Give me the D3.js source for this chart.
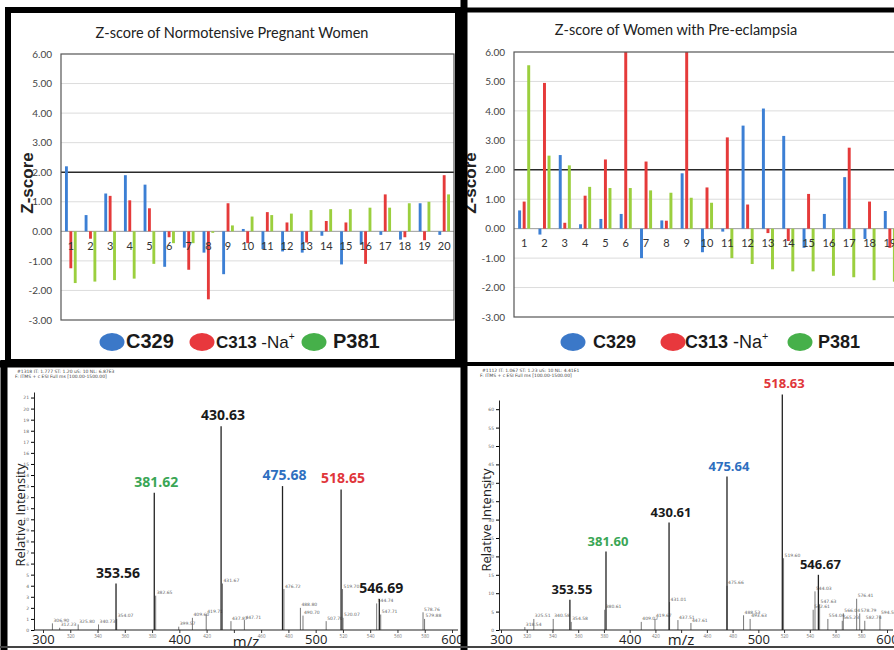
<!DOCTYPE html>
<html>
<head>
<meta charset="utf-8">
<script src="https://cdn.jsdelivr.net/npm/d3@7"></script>
<style>
body { margin: 0; background: #fff; }
svg { display: block; font-family: Lato, "Open Sans", sans-serif; }
</style>
</head>
<body>
<div id="fig"></div>
<script>
// ---- data ----
const categories = [1, 2, 3, 4, 5, 6, 7, 8, 9, 10, 11, 12, 13, 14, 15, 16, 17, 18, 19, 20];
const preCategories = [1, 2, 3, 4, 5, 6, 7, 8, 9, 10, 11, 12, 13, 14, 15, 16, 17, 18, 19];
const zTicks = [6, 5, 4, 3, 2, 1, 0, -1, -2, -3];
const seriesNames = ["C329", "C313", "P381"];

// normotensive pregnant women
const normC329 = [2.2, 0.55, 1.28, 1.9, 1.58, -1.2, -0.55, -0.72, -1.45, 0.08, -0.6, -0.68, -0.72, -0.15, -1.12, -0.45, -0.12, -0.28, 0.95, -0.12];
const normC313 = [-1.25, -0.25, 1.2, 1.05, 0.78, -0.2, -1.3, -2.3, 0.95, -0.4, 0.65, 0.3, -0.38, 0.35, 0.3, -1.1, 1.25, -0.2, -0.3, 1.9];
const normP381 = [-1.75, -1.7, -1.65, -1.6, -1.1, -0.4, -0.4, -0.05, 0.2, 0.5, 0.55, 0.6, 0.72, 0.75, 0.75, 0.8, 0.8, 0.95, 1.0, 1.25];

// women with pre-eclampsia (only 19 groups fit on the page)
const preC329 = [0.62, -0.2, 2.5, 0.15, 0.33, 0.5, -1.0, 0.28, 1.88, -0.8, -0.1, 3.5, 4.08, 3.15, -0.65, 0.5, 1.75, -0.35, 0.6];
const preC313 = [0.92, 4.95, 0.2, 1.12, 2.35, 6.0, 2.28, 0.27, 6.0, 1.4, 3.1, 0.82, -0.15, -0.42, 1.18, 0, 2.75, 0.92, -0.65];
const preP381 = [5.55, 2.48, 2.15, 1.42, 1.38, 1.38, 1.3, 1.22, 1.05, 0.88, -1.0, -1.2, -1.38, -1.45, -1.45, -1.6, -1.65, -1.75, -1.8];

// mass spectrum, normotensive
const specAMz = [353.56, 381.62, 430.63, 475.68, 518.65, 546.69];
const specAInt = [4.2, 12.4, 18.4, 13.0, 12.7, 2.8];
const specAMinorMz = [306.90, 312.23, 325.80, 340.73, 354.07, 382.65, 399.57, 409.60, 419.71, 431.67, 437.87, 447.71, 476.72, 488.80, 490.70, 507.70, 519.70, 520.07, 544.74, 547.71, 578.76, 579.88];
const specAMinorInt = [0.6, 0.2, 0.5, 0.5, 1.0, 3.1, 0.3, 1.1, 1.4, 4.2, 0.8, 0.9, 3.7, 2.0, 1.3, 0.8, 3.7, 1.1, 2.4, 1.4, 1.6, 1.0];
const specAYTicks = [0, 1, 2, 3, 4, 5, 6, 7, 8, 9, 10, 11, 12, 13, 14, 15, 16, 17, 18, 19, 20, 21];
const specAHeader = ["#1318  IT: 1.777  ST: 1.20  uS: 10  NL: 6.87E3", "F: ITMS + c ESI Full ms [100.00-1500.00]"];

// mass spectrum, pre-eclampsia
const specBMz = [353.55, 381.60, 430.61, 475.64, 518.63, 546.67];
const specBInt = [8.2, 21.3, 29.2, 41.7, 64.0, 15.0];
const specBMinorMz = [318.54, 325.51, 340.58, 354.58, 380.61, 409.02, 419.67, 431.01, 437.51, 447.61, 475.66, 488.53, 493.63, 519.60, 542.61, 544.03, 547.63, 554.04, 565.23, 566.04, 576.41, 578.79, 582.74, 594.50];
const specBMinorInt = [0.8, 3.0, 3.0, 2.2, 5.5, 2.2, 3.0, 7.6, 2.7, 1.9, 12.0, 4.0, 3.0, 19.5, 5.5, 10.5, 7.0, 3.0, 2.5, 4.5, 8.5, 4.5, 2.5, 4.0];
const specBYTicks = [0, 5, 10, 15, 20, 25, 30, 35, 40, 45, 50, 55, 60];
const specBHeader = ["#1112  IT: 1.067  ST: 1.23  uS: 10  NL: 4.41E1", "F: ITMS + c ESI Full ms [100.00-1500.00]"];

const mzTicks = [300, 320, 340, 360, 380, 400, 420, 440, 460, 480, 500, 520, 540, 560, 580, 600];

// ---- styles ----
const barColors = ["#3c7fd4", "#e53a3a", "#9bcf3e"];
const legendColors = ["#3b78c8", "#e8383d", "#46b04a"];
const mainLabelColors = ["#1a1a1a", "#3aa655", "#1a1a1a", "#2e6fc0", "#e0363a", "#1a1a1a"];

let svg = d3.select("#fig").append("svg")
    .attr("width", 894)
    .attr("height", 650);

function zChart(cfg) {
    let g = svg.append("g");
    let x = d3.scaleBand().domain(cfg.cats).range([cfg.x0, cfg.x1]);
    let xs = d3.scaleBand().domain([0, 1, 2])
        .range([x.bandwidth() * 0.125, x.bandwidth() * 0.875])
        .padding(0.35);
    let y = d3.scaleLinear().domain([-3, 6]).range([cfg.y1, cfg.y0]);

    // title
    g.append("text")
        .attr("x", cfg.titleX)
        .attr("y", cfg.titleY)
        .attr("text-anchor", "middle")
        .attr("font-size", 14.5)
        .attr("fill", "#222")
        .text(cfg.title);

    // grid lines
    g.append("g").selectAll("line")
        .data(zTicks.filter(d => d !== 6 && d !== -3))
        .join("line")
        .attr("x1", cfg.x0)
        .attr("x2", cfg.x1)
        .attr("y1", d => y(d))
        .attr("y2", d => y(d))
        .attr("stroke", d => d === 2 ? "#2a2a2a" : (d === 0 ? "#9a9a9a" : "#dcdcdc"))
        .attr("stroke-width", d => d === 2 ? 1.5 : 1);

    // bars
    cfg.series.forEach((vals, si) => {
        g.append("g").selectAll("rect")
            .data(vals)
            .join("rect")
            .attr("x", (d, i) => x(cfg.cats[i]) + xs(si))
            .attr("width", xs.bandwidth())
            .attr("y", d => y(Math.max(0, d)))
            .attr("height", d => Math.abs(y(d) - y(0)))
            .attr("fill", barColors[si]);
    });

    // frame
    g.append("rect")
        .attr("x", cfg.x0)
        .attr("y", y(6))
        .attr("width", cfg.x1 - cfg.x0)
        .attr("height", y(-3) - y(6))
        .attr("fill", "none")
        .attr("stroke", "#555")
        .attr("stroke-width", 1.2);

    // y axis labels
    let ya = g.append("g")
        .attr("transform", "translate(" + cfg.x0 + ",0)")
        .call(d3.axisLeft(y).tickValues(zTicks).tickFormat(d => d.toFixed(2)).tickSize(0).tickPadding(9));
    ya.select(".domain").remove();
    ya.selectAll("text").attr("font-size", 10).attr("fill", "#444").attr("font-family", "Lato, sans-serif");

    // category labels under the zero line
    g.append("g").selectAll("text")
        .data(cfg.cats)
        .join("text")
        .attr("x", d => x(d) + x.bandwidth() / 2)
        .attr("y", y(0) + 18.5)
        .attr("text-anchor", "middle")
        .attr("font-size", 11)
        .attr("fill", "#333")
        .text(d => d);

    // y title
    g.append("text")
        .attr("transform", "translate(" + cfg.yLabelX + "," + cfg.yLabelY + ") rotate(-90)")
        .attr("text-anchor", "middle")
        .attr("font-family", "Liberation Sans, Arial, sans-serif")
        .attr("font-weight", "bold")
        .attr("font-size", 17)
        .attr("fill", "#222")
        .text("Z-score");

    // legend
    let lg = g.append("g");
    seriesNames.forEach((name, i) => {
        lg.append("ellipse")
            .attr("cx", cfg.legendDotX[i])
            .attr("cy", cfg.legendY - 6)
            .attr("rx", 12.5)
            .attr("ry", 9)
            .attr("fill", legendColors[i]);
        let t = lg.append("text")
            .attr("x", cfg.legendTextX[i])
            .attr("y", cfg.legendY)
            .attr("font-family", "Liberation Sans, Arial, sans-serif")
            .attr("font-size", name === "C313" ? cfg.naSize : cfg.legendSize)
            .attr("fill", "#1a1a1a");
        t.append("tspan").attr("font-weight", "bold").text(name);
        if (name === "C313") {
            t.append("tspan").text(" -Na");
            t.append("tspan").attr("font-size", cfg.naSize * 0.6).attr("dy", -8).text("+");
        }
    });
}

function spectrum(cfg) {
    let g = svg.append("g");
    let x = d3.scaleLinear().domain([300, 600]).range([cfg.x0, cfg.x1]);
    let y = d3.scaleLinear().domain([0, cfg.yMax]).range([cfg.yBase, cfg.yTop]);

    // instrument header
    g.append("g").selectAll("text")
        .data(cfg.header)
        .join("text")
        .attr("x", (d, i) => cfg.headerX - i * 2)
        .attr("y", (d, i) => cfg.headerY + i * 5)
        .attr("font-family", "DejaVu Sans, sans-serif")
        .attr("font-size", 4.5)
        .attr("fill", "#444")
        .text(d => d);

    // minor peaks
    let minor = d3.zip(cfg.minorMz, cfg.minorInt);
    g.append("g").selectAll("line")
        .data(minor)
        .join("line")
        .attr("x1", d => x(d[0]))
        .attr("x2", d => x(d[0]))
        .attr("y1", y(0))
        .attr("y2", d => y(d[1]))
        .attr("stroke", "#555")
        .attr("stroke-width", 0.8);
    g.append("g").selectAll("text")
        .data(minor)
        .join("text")
        .attr("x", d => x(d[0]) + 1)
        .attr("y", d => y(d[1]) - 1.5)
        .attr("font-family", "DejaVu Sans, sans-serif")
        .attr("font-size", 4.5)
        .attr("fill", "#666")
        .text(d => d[0].toFixed(2));

    // main peaks
    let main = d3.zip(cfg.mz, cfg.inten);
    g.append("g").selectAll("line")
        .data(main)
        .join("line")
        .attr("x1", d => x(d[0]))
        .attr("x2", d => x(d[0]))
        .attr("y1", y(0))
        .attr("y2", d => y(d[1]))
        .attr("stroke", "#222")
        .attr("stroke-width", 1.3);
    g.append("g").selectAll("text")
        .data(main)
        .join("text")
        .attr("x", d => x(d[0]) + 2)
        .attr("y", d => y(d[1]) - 6)
        .attr("text-anchor", "middle")
        .attr("font-family", "Open Sans, sans-serif")
        .attr("font-weight", "bold")
        .attr("font-size", cfg.labelSize)
        .attr("fill", (d, i) => mainLabelColors[i])
        .text(d => d[0].toFixed(2));

    // x axis; the m/z title sits where the 440 label would be
    let xa = g.append("g")
        .attr("transform", "translate(0," + cfg.yBase + ")")
        .call(d3.axisBottom(x).tickValues(mzTicks).tickSize(3).tickPadding(2)
            .tickFormat(d => d === 440 ? "" : d));
    xa.select(".domain").remove();
    xa.selectAll("line").attr("stroke", "#333");
    xa.selectAll("text")
        .attr("font-family", "Open Sans, sans-serif")
        .attr("font-size", d => d % 100 === 0 ? 13 : 4.5)
        .attr("fill", d => d % 100 === 0 ? "#222" : "#777");
    g.append("line")
        .attr("x1", cfg.axisX)
        .attr("x2", cfg.x1 + 6)
        .attr("y1", cfg.yBase)
        .attr("y2", cfg.yBase)
        .attr("stroke", "#222")
        .attr("stroke-width", 1.2);

    // y axis
    let ya = g.append("g")
        .attr("transform", "translate(" + cfg.axisX + ",0)")
        .call(d3.axisLeft(y).tickValues(cfg.yTicks).tickSize(3).tickSizeOuter(0).tickPadding(2));
    ya.select(".domain").attr("stroke", "#222");
    ya.selectAll("text")
        .attr("font-family", "DejaVu Sans, sans-serif")
        .attr("font-size", 4.5)
        .attr("fill", "#666");

    // axis titles
    g.append("text")
        .attr("x", cfg.mzX)
        .attr("y", cfg.mzY)
        .attr("text-anchor", "middle")
        .attr("font-family", "Open Sans, sans-serif")
        .attr("font-size", 15)
        .attr("fill", "#222")
        .text("m/z");
    g.append("text")
        .attr("transform", "translate(" + cfg.riX + "," + cfg.riY + ") rotate(-90)")
        .attr("text-anchor", "middle")
        .attr("font-family", "Open Sans, sans-serif")
        .attr("font-size", 13)
        .attr("fill", "#222")
        .text("Relative Intensity");
}

zChart({
    cats: categories,
    series: [normC329, normC313, normP381],
    x0: 61, x1: 454, y0: 54, y1: 320,
    title: "Z-score of Normotensive Pregnant Women",
    titleX: 232, titleY: 38,
    yLabelX: 33, yLabelY: 183,
    legendY: 348, legendSize: 20, naSize: 17,
    legendDotX: [112, 202, 314],
    legendTextX: [126, 216, 333]
});

zChart({
    cats: preCategories,
    series: [preC329, preC313, preP381],
    x0: 514, x1: 900, y0: 52, y1: 317,
    title: "Z-score of Women with Pre-eclampsia",
    titleX: 676, titleY: 35,
    yLabelX: 476, yLabelY: 183,
    legendY: 348, legendSize: 18, naSize: 18,
    legendDotX: [573, 673, 800],
    legendTextX: [593, 685, 818]
});

spectrum({
    mz: specAMz, inten: specAInt,
    minorMz: specAMinorMz, minorInt: specAMinorInt,
    yTicks: specAYTicks, yMax: 21.5, header: specAHeader,
    x0: 43, x1: 452, axisX: 34, yBase: 630, yTop: 392,
    labelSize: 14, headerX: 17, headerY: 373,
    mzX: 246, mzY: 647, riX: 25, riY: 515
});

spectrum({
    mz: specBMz, inten: specBInt,
    minorMz: specBMinorMz, minorInt: specBMinorInt,
    yTicks: specBYTicks, yMax: 62.5, header: specBHeader,
    x0: 501, x1: 887, axisX: 499, yBase: 630, yTop: 400,
    labelSize: 13, headerX: 482, headerY: 372,
    mzX: 681, mzY: 645, riX: 491, riY: 520
});

// panel borders, drawn last so they sit on top
let frame = svg.append("g").attr("stroke", "#000").attr("fill", "none");
frame.append("rect").attr("x", 8).attr("y", 10).attr("width", 450).attr("height", 352).attr("stroke-width", 6);
frame.append("line").attr("x1", 464).attr("x2", 464).attr("y1", 0).attr("y2", 650).attr("stroke-width", 7);
frame.append("line").attr("x1", 461).attr("x2", 894).attr("y1", 10).attr("y2", 10).attr("stroke-width", 5);
frame.append("line").attr("x1", 0).attr("x2", 465).attr("y1", 364).attr("y2", 364).attr("stroke-width", 7);
frame.append("line").attr("x1", 465).attr("x2", 894).attr("y1", 364).attr("y2", 364).attr("stroke-width", 4);
frame.append("line").attr("x1", 4).attr("x2", 4).attr("y1", 360).attr("y2", 650).attr("stroke-width", 7);
frame.append("line").attr("x1", 0).attr("x2", 894).attr("y1", 647).attr("y2", 647).attr("stroke", "#444").attr("stroke-width", 2);
</script>
</body>
</html>
